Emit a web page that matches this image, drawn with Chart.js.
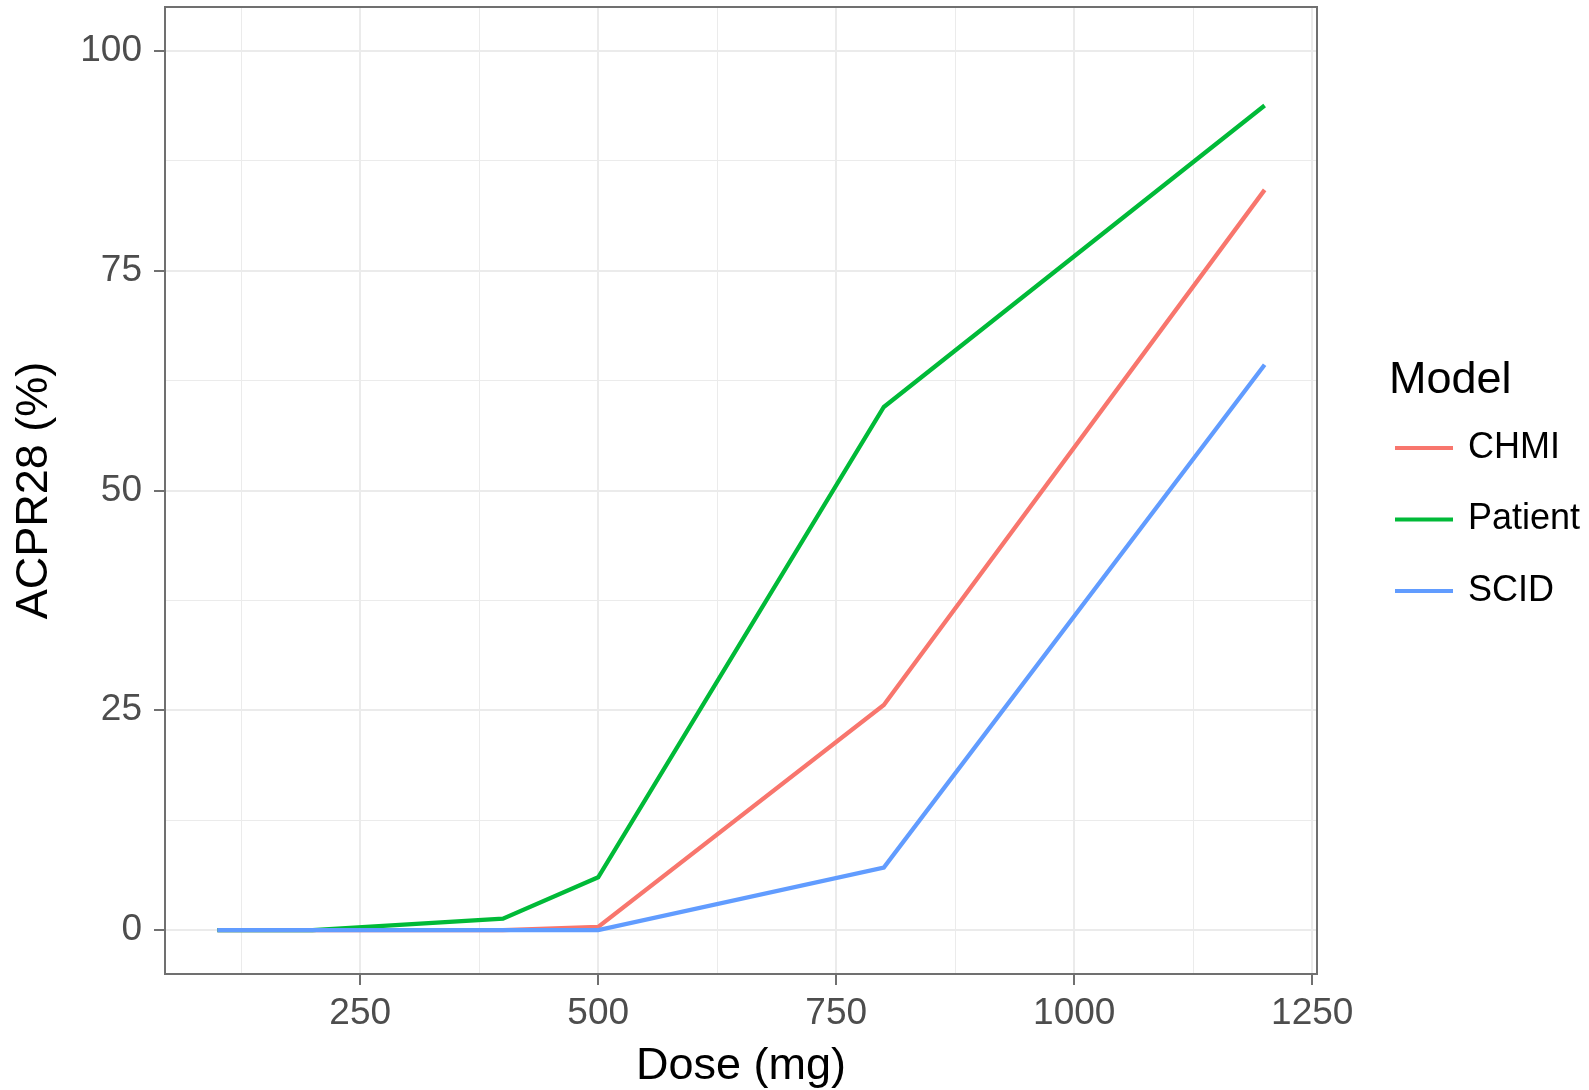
<!DOCTYPE html>
<html>
<head>
<meta charset="utf-8">
<title>ACPR28 vs Dose</title>
<script src="https://cdn.jsdelivr.net/npm/chart.js@4.4.1/dist/chart.umd.min.js"></script>
<style>
  html, body { margin: 0; padding: 0; background: #fff; }
  #wrap { width: 1589px; height: 1090px; }
</style>
</head>
<body>
<div id="wrap"><canvas id="doseChart" width="1589" height="1090"></canvas></div>
<script>
// Data
const doses = [100, 200, 400, 500, 800, 1200];
const chmiValues = [0, 0, 0, 0.35, 25.6, 84.2];
const patientValues = [0, 0, 1.3, 6.0, 59.5, 93.8];
const scidValues = [0, 0, 0, 0, 7.1, 64.3];

const modelNames = ['CHMI', 'Patient', 'SCID'];

// Axis ticks
const xMajorTicks = [250, 500, 750, 1000, 1250];
const xMinorTicks = [125, 375, 625, 875, 1125];
const yMajorTicks = [0, 25, 50, 75, 100];
const yMinorTicks = [12.5, 37.5, 62.5, 87.5];

// ggplot default hue colours
const colors = {
  CHMI: '#F8766D',
  Patient: '#00BA38',
  SCID: '#619CFF'
};

const FONT = "'Liberation Sans', Arial, sans-serif";
const gridColor = '#EBEBEB';
const borderColor = '#707070';

const toPoints = values => doses.map((d, i) => ({ x: d, y: values[i] }));

const isMajor = (value, majors) => majors.includes(value);

function gridOptions(majors) {
  return {
    color: gridColor,
    lineWidth: ctx => (ctx.tick && isMajor(ctx.tick.value, majors) ? 2 : 1),
    tickColor: ctx => (ctx.tick && isMajor(ctx.tick.value, majors) ? borderColor : 'rgba(0,0,0,0)'),
    tickWidth: 2,
    tickLength: 11,
    drawTicks: true
  };
}

// no extra room for half-labels, the plot box is fixed
function fixBox(axis, size) {
  if (axis.isHorizontal()) {
    axis.height = size;
  } else {
    axis.width = size;
  }
  axis.paddingTop = 0;
  axis.paddingBottom = 0;
  axis.paddingLeft = 0;
  axis.paddingRight = 0;
}

// Panel border drawn over the lines, like theme_bw
const panelBorder = {
  id: 'panelBorder',
  afterDatasetsDraw(chart) {
    const { ctx, chartArea } = chart;
    ctx.save();
    ctx.strokeStyle = borderColor;
    ctx.lineWidth = 2;
    ctx.strokeRect(chartArea.left, chartArea.top, chartArea.right - chartArea.left, chartArea.bottom - chartArea.top);
    ctx.restore();
  }
};

// ggplot style legend on the right
const sideLegend = {
  id: 'sideLegend',
  afterDraw(chart) {
    const { ctx } = chart;
    ctx.save();
    ctx.fillStyle = '#000';
    ctx.font = `45px ${FONT}`;
    ctx.textAlign = 'left';
    ctx.textBaseline = 'alphabetic';
    ctx.fillText('Model', 1389, 393);

    chart.data.datasets.forEach((ds, i) => {
      const y = 448 + i * 71.5;
      ctx.strokeStyle = ds.borderColor;
      ctx.lineWidth = 4;
      ctx.beginPath();
      ctx.moveTo(1395, y);
      ctx.lineTo(1453, y);
      ctx.stroke();

      ctx.fillStyle = '#000';
      ctx.font = `36px ${FONT}`;
      ctx.textBaseline = 'middle';
      ctx.fillText(ds.label, 1468, y);
    });
    ctx.restore();
  }
};

const datasets = [
  { label: modelNames[0], data: toPoints(chmiValues), borderColor: colors.CHMI, order: 2 },
  { label: modelNames[1], data: toPoints(patientValues), borderColor: colors.Patient, order: 1 },
  { label: modelNames[2], data: toPoints(scidValues), borderColor: colors.SCID, order: 0 }
].map(ds => ({
  ...ds,
  backgroundColor: ds.borderColor,
  borderWidth: 4.3,
  pointRadius: 0,
  tension: 0,
  fill: false
}));

const ctx = document.getElementById('doseChart').getContext('2d');

new Chart(ctx, {
  type: 'line',
  data: { datasets },
  options: {
    responsive: false,
    animation: false,
    devicePixelRatio: 1,
    layout: {
      padding: { left: 0, top: 7, right: 272, bottom: 0 }
    },
    plugins: {
      legend: { display: false },
      tooltip: { enabled: false }
    },
    scales: {
      x: {
        type: 'linear',
        min: 45,
        max: 1255,
        afterBuildTicks: axis => {
          axis.ticks = [...xMinorTicks, ...xMajorTicks].sort((a, b) => a - b).map(v => ({ value: v }));
        },
        afterFit: axis => fixBox(axis, 116),
        grid: gridOptions(xMajorTicks),
        border: { display: false },
        ticks: {
          autoSkip: false,
          maxRotation: 0,
          padding: 7,
          color: '#4D4D4D',
          font: { family: FONT, size: 37 },
          callback: value => (isMajor(value, xMajorTicks) ? String(value) : '')
        },
        title: {
          display: true,
          text: 'Dose (mg)',
          color: '#000',
          font: { family: FONT, size: 45, lineHeight: 1.0 },
          padding: { top: 0, bottom: 1 }
        }
      },
      y: {
        type: 'linear',
        min: -5,
        max: 105,
        afterBuildTicks: axis => {
          axis.ticks = [...yMinorTicks, ...yMajorTicks].sort((a, b) => a - b).map(v => ({ value: v }));
        },
        afterFit: axis => fixBox(axis, 165),
        grid: gridOptions(yMajorTicks),
        border: { display: false },
        ticks: {
          autoSkip: false,
          padding: 12,
          color: '#4D4D4D',
          font: { family: FONT, size: 37 },
          callback: value => (isMajor(value, yMajorTicks) ? String(value) : '')
        },
        title: {
          display: true,
          text: 'ACPR28 (%)',
          color: '#000',
          font: { family: FONT, size: 45, lineHeight: 1.2 },
          padding: { top: 8, bottom: 0 }
        }
      }
    }
  },
  plugins: [panelBorder, sideLegend]
});
</script>
</body>
</html>
